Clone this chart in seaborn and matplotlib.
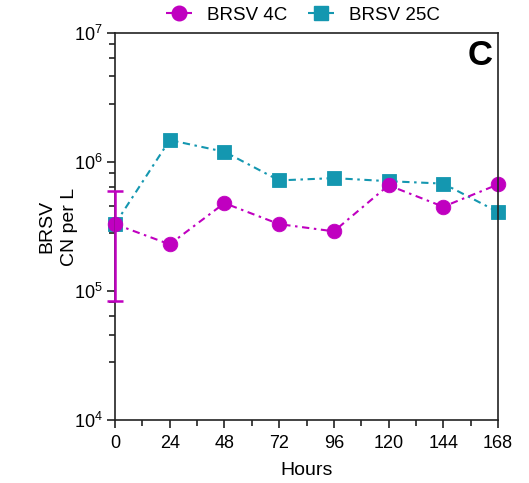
import numpy as np
import pandas as pd
import seaborn as sns
import matplotlib
matplotlib.use("Agg")
import matplotlib.pyplot as plt
from matplotlib.ticker import LogLocator, LogFormatterSciNotation, MultipleLocator, NullFormatter
from matplotlib.lines import Line2D

hours = [0, 24, 48, 72, 96, 120, 144, 168]
brsv_4c = [3.3e5, 2.3e5, 4.8e5, 3.3e5, 2.9e5, 6.6e5, 4.5e5, 6.7e5]
brsv_25c = [3.3e5, 1.48e6, 1.2e6, 7.2e5, 7.5e5, 7.1e5, 6.8e5, 4.1e5]
err_x = [0]
err_y = [3.3e5]
err_low = [8.4e4]
err_high = [5.96e5]
series_names = ["BRSV 4C", "BRSV 25C"]
colors = {"BRSV 4C": "#C000C0", "BRSV 25C": "#1497B0"}

sns.set_style("ticks")
plt.rcParams["font.family"] = ["Liberation Sans", "DejaVu Sans"]
plt.rcParams["mathtext.default"] = "regular"
plt.rcParams["text.color"] = "black"
plt.rcParams["axes.labelcolor"] = "black"
plt.rcParams["xtick.color"] = "#222222"
plt.rcParams["ytick.color"] = "#222222"
plt.rcParams["xtick.labelcolor"] = "black"
plt.rcParams["ytick.labelcolor"] = "black"

df = pd.concat([
    pd.DataFrame({"Hours": hours, "CN": brsv_25c, "Sample": "BRSV 25C"}),
    pd.DataFrame({"Hours": hours, "CN": brsv_4c, "Sample": "BRSV 4C"}),
])

fig = plt.figure(figsize=(5.29, 4.83), dpi=100)
ax = fig.add_axes([0.2174, 0.1304, 0.7240, 0.8013])

dash = (3.5, 2.2, 1.2, 2.2)
sns.lineplot(data=df, x="Hours", y="CN", hue="Sample", style="Sample",
             hue_order=["BRSV 25C", "BRSV 4C"], style_order=["BRSV 25C", "BRSV 4C"],
             palette=colors, markers={"BRSV 4C": "o", "BRSV 25C": "s"},
             dashes={"BRSV 4C": dash, "BRSV 25C": dash},
             markersize=10.5, markeredgewidth=0.6, linewidth=1.5,
             legend=False, ax=ax)
for ln in ax.lines:
    ln.set_clip_on(False)
    ln.set_markeredgecolor(ln.get_color())

yerr = np.array([[err_y[0] - err_low[0]], [err_high[0] - err_y[0]]])
ax.errorbar(err_x, err_y, yerr=yerr, fmt="none", ecolor=colors["BRSV 4C"],
            elinewidth=1.8, capsize=5.8, capthick=1.8, clip_on=False, zorder=5)

ax.set_yscale("log")
ax.set_ylim(1e4, 1e7)
ax.set_xlim(0, 168)
ax.xaxis.set_major_locator(MultipleLocator(24))
ax.xaxis.set_minor_locator(MultipleLocator(12))
ax.yaxis.set_major_locator(LogLocator(base=10, numticks=10))
ax.yaxis.set_major_formatter(LogFormatterSciNotation())
ax.yaxis.set_minor_locator(LogLocator(base=10, subs=[2.8, 4.6, 6.4, 8.2], numticks=20))
ax.yaxis.set_minor_formatter(NullFormatter())

for s in ax.spines.values():
    s.set_linewidth(1.2)
    s.set_color("#222222")
ax.tick_params(axis="both", which="major", length=6, width=1.2, labelsize=13, pad=3)
ax.tick_params(axis="x", which="major", pad=5)
ax.tick_params(axis="both", which="minor", length=4, width=1.2)
ax.tick_params(axis="x", which="minor", bottom=True)

ax.set_xlabel("Hours", fontsize=14, labelpad=7)
ax.set_ylabel("BRSV\nCN per L", fontsize=14, labelpad=-3, linespacing=1.45)
ax.text(0.985, 0.985, "C", transform=ax.transAxes, ha="right", va="top",
        fontsize=25, fontweight="bold")

handles = [
    Line2D([], [], color=colors["BRSV 4C"], marker="o", markersize=10.5, linewidth=1.5,
           dashes=dash),
    Line2D([], [], color=colors["BRSV 25C"], marker="s", markersize=10.5, linewidth=1.5,
           dashes=dash),
]
ax.legend(handles, series_names, loc="lower center", bbox_to_anchor=(0.49, 1.0),
          ncol=2, frameon=False, fontsize=13.5, handlelength=1.4, handletextpad=0.8,
          columnspacing=1.1, borderaxespad=0.1)

fig.savefig("out.png", dpi=100)
